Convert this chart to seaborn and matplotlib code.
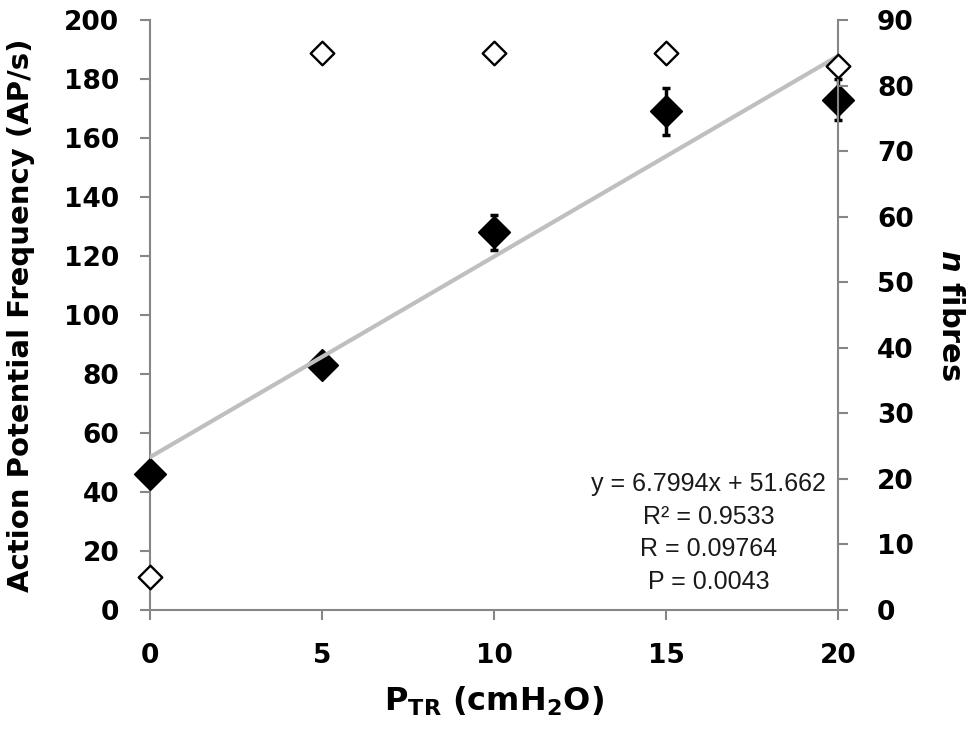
import matplotlib
matplotlib.use('Agg')
import matplotlib.pyplot as plt
import seaborn as sns
import numpy as np
import pandas as pd

# values
pressure = [0, 5, 10, 15, 20]
ap_freq = [46, 83, 128, 169, 173]
ap_err = [3, 3, 6, 8, 7]
n_fibres = [5, 85, 85, 85, 83]
stats_text = 'y = 6.7994x + 51.662\nR² = 0.9533\nR = 0.09764\nP = 0.0043'

df = pd.DataFrame({'p': pressure, 'ap': ap_freq, 'err': ap_err, 'n': n_fibres})

sns.set_style('ticks')
plt.rcParams['font.family'] = ['DejaVu Sans']
plt.rcParams['text.color'] = 'black'
plt.rcParams['axes.labelcolor'] = 'black'
plt.rcParams['mathtext.fontset'] = 'custom'
plt.rcParams['mathtext.rm'] = 'DejaVu Sans:bold'
plt.rcParams['mathtext.bf'] = 'DejaVu Sans:bold'
plt.rcParams['mathtext.it'] = 'DejaVu Sans:bold:italic'

grey = '#868686'
fig = plt.figure(figsize=(9.75, 7.33), dpi=100)
ax = fig.add_axes([0.1538, 0.1678, 0.7057, 0.8049])
ax2 = ax.twinx()

ax.errorbar(df['p'], df['ap'], yerr=df['err'], fmt='none', ecolor='black',
            elinewidth=2.5, capsize=3, capthick=2.5, zorder=2, clip_on=False)
sns.scatterplot(data=df, x='p', y='ap', ax=ax, marker='D', s=16**2,
                color='black', edgecolor='black', zorder=3, clip_on=False)

# trend line (drawn over the filled markers, as in the original)
sns.regplot(data=df, x='p', y='ap', ax=ax, scatter=False, ci=None,
            truncate=True, line_kws={'color': '#bfbfbf', 'lw': 3, 'zorder': 4})

sns.scatterplot(data=df, x='p', y='n', ax=ax2, marker='D', s=12**2,
                color='white', edgecolor='black', linewidth=1.7,
                zorder=3, clip_on=False)

ax.set_xlim(0, 20)
ax.set_ylim(0, 200)
ax2.set_ylim(0, 90)
ax.set_xticks(pressure)
ax.set_yticks(np.arange(0, 201, 20))
ax2.set_yticks(np.arange(0, 91, 10))

for a in (ax, ax2):
    for s in a.spines.values():
        s.set_color(grey)
        s.set_linewidth(1.5)
    a.spines['top'].set_visible(False)
    a.tick_params(direction='out', length=7, width=1.5, color=grey,
                  labelsize=19, labelcolor='black')
    a.tick_params(axis='x', pad=17)
    for lab in a.get_xticklabels() + a.get_yticklabels():
        lab.set_fontweight('bold')
ax.tick_params(axis='y', pad=15)
ax2.tick_params(axis='y', pad=21)
ax.spines['right'].set_visible(False)
ax2.spines['left'].set_visible(False)
ax2.spines['bottom'].set_visible(False)

ax.set_xlabel(r'P$_{\mathregular{TR}}$ (cmH$_{\mathregular{2}}$O)',
              fontsize=23, fontweight='bold', labelpad=11)
ax.set_ylabel('Action Potential Frequency (AP/s)', fontsize=21,
              fontweight='bold', labelpad=21)
ax2.set_ylabel(r'$n$ fibres', fontsize=22, fontweight='bold',
               rotation=270, labelpad=37)

ax.text(0.9826, 0.1305, stats_text, transform=ax.transAxes, ha='right',
        va='center', multialignment='center', fontsize=18, linespacing=1.45,
        color='#1a1a1a', family='Liberation Sans')

fig.savefig('out.png', dpi=100)
